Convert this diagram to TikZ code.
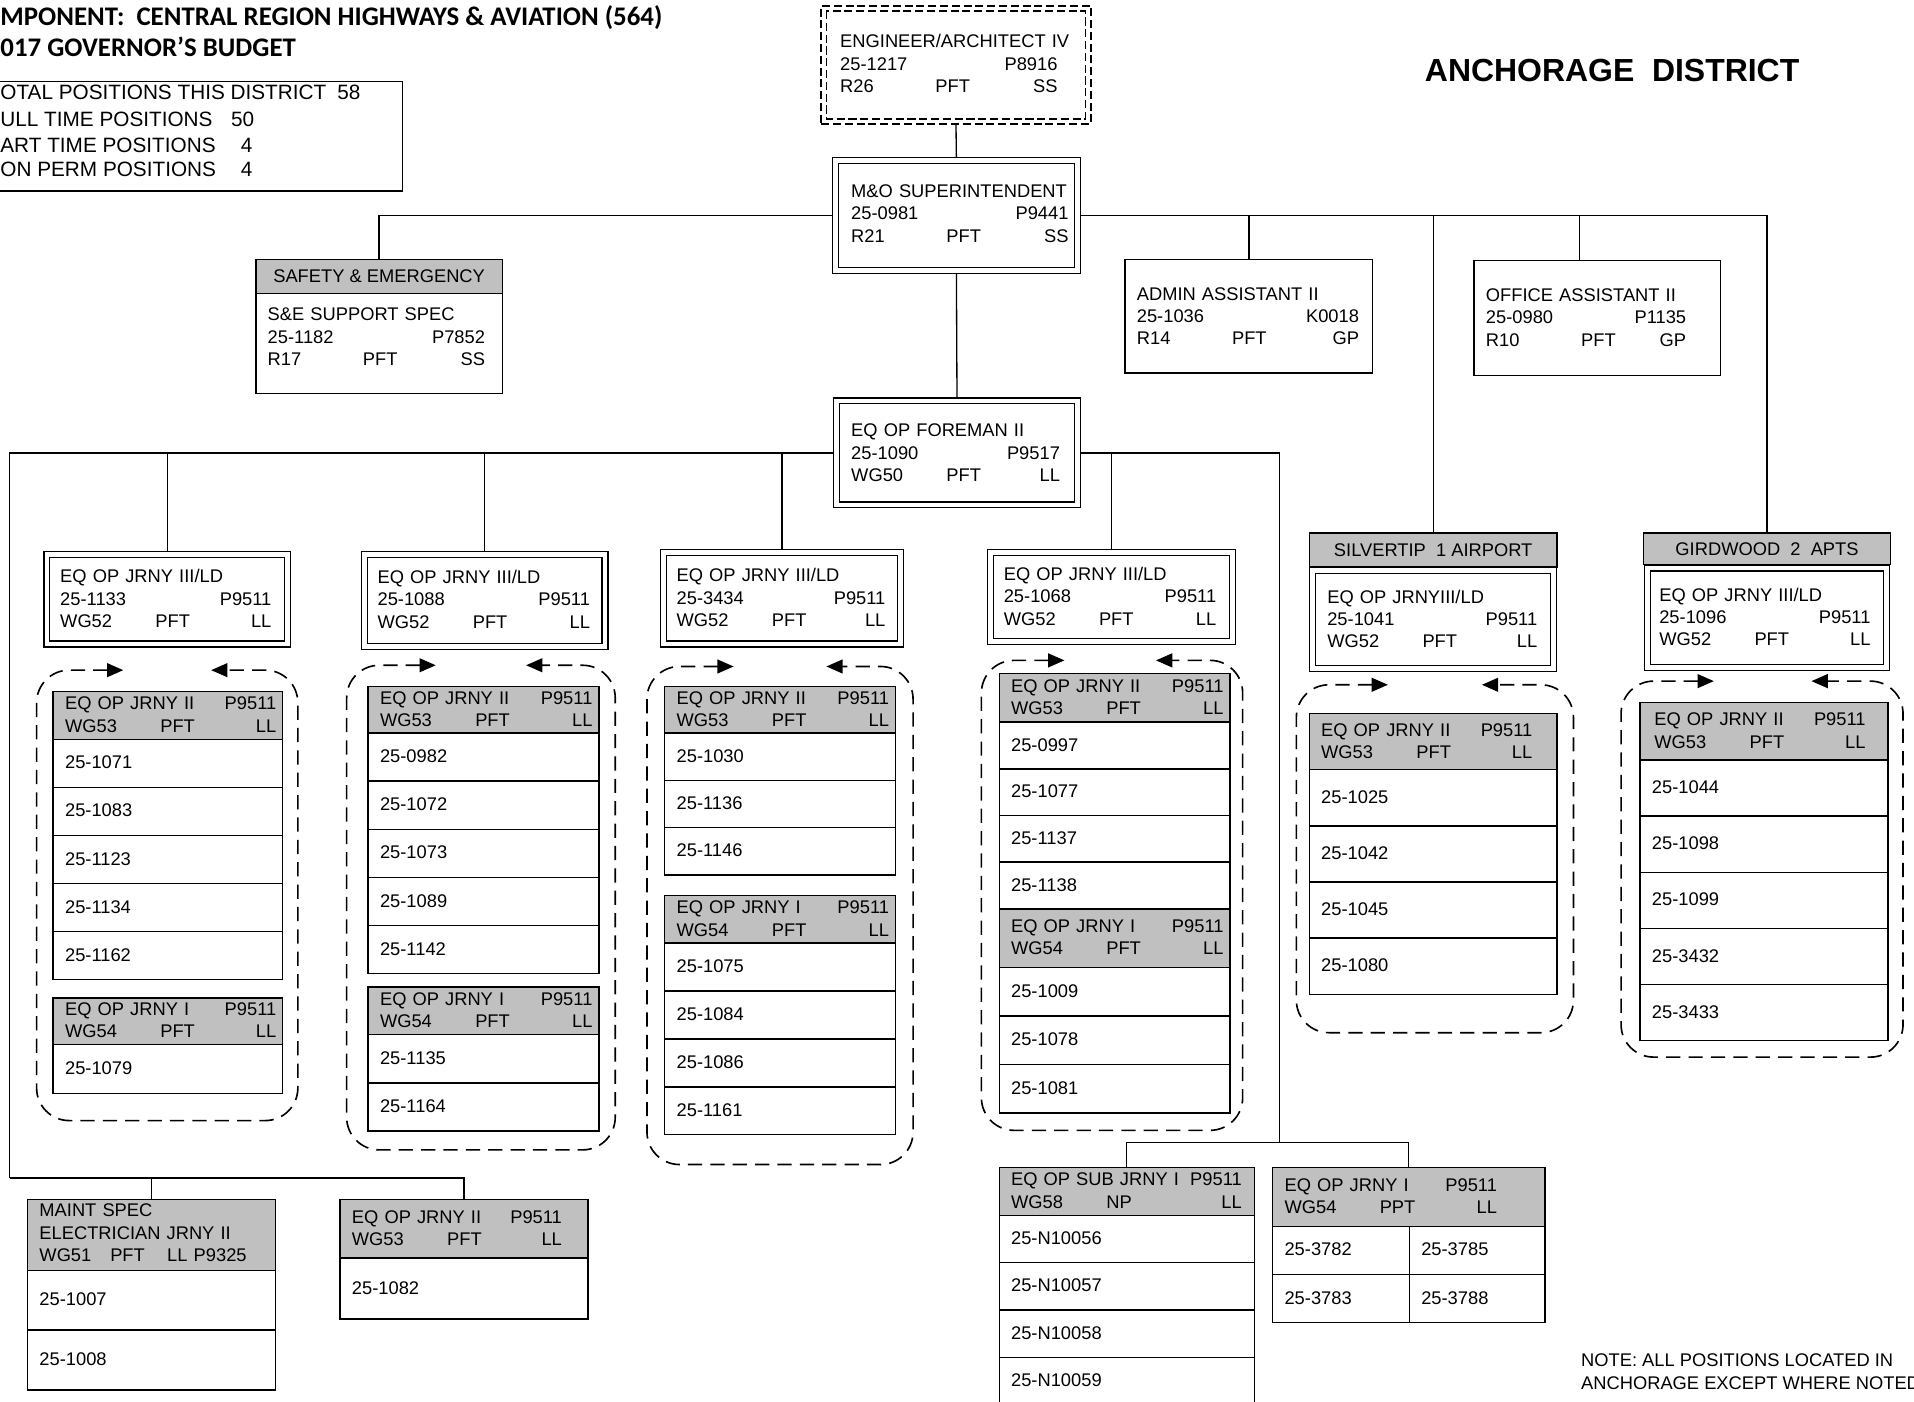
\documentclass[tikz,border=0pt]{standalone}
\usepackage{fontspec}
\setmainfont{Liberation Sans}
\newfontfamily\calibfont{Carlito}
\usetikzlibrary{arrows.meta,calc}
\definecolor{hgray}{RGB}{192,192,192}
\pgfdeclarelayer{bg}
\pgfsetlayers{bg,main}
% name, style, x1, y1, x2, y2
\newcommand\mkR[6]{%
  \pgfmathsetlengthmacro\rw{((#5)-(#3))*0.6pt}%
  \pgfmathsetlengthmacro\rh{((#6)-(#4))*0.6pt}%
  \node[#2, anchor=north west, inner sep=0pt, minimum width=\rw, minimum height=\rh] (#1) at (#3,#4) {};}
% double box, outer coordinates
\newcommand\mkD[5]{\mkR{#1}{dbl}{#2+2.9}{#3+2.9}{#4-2.9}{#5-2.9}}
% text: name, x-left, y-centre, x-right, content
\newcommand\mkT[5]{%
  \pgfmathsetlengthmacro\tw{((#4)-(#2))*0.6pt}%
  \node[txt, text width=\tw] (#1) at (#2,#3) {#5};}
\newcommand\trio[3]{\makebox[46.8pt][l]{#1}#2\hfill #3}
% rows: prefix, x1, x2, ytop, height, list
\newcommand\mkRows[6]{%
  \foreach \rowtxt [count=\ri] in {#6} {%
    \pgfmathsetmacro\ya{#4+(\ri-1)*(#5)}%
    \pgfmathsetmacro\yb{\ya+(#5)}%
    \pgfmathsetmacro\ym{(\ya+\yb)/2}%
    \pgfmathsetmacro\xt{#2+10}%
    \mkR{#1\ri}{cell}{#2}{\ya}{#3}{\yb}%
    \mkT{#1t\ri}{\xt}{\ym}{#3-6}{\rowtxt}%
  }}
% dashed group: x1 y1 x2 y2 tipL tipR
\newcommand\grpath[6]{\draw[grp] (#5,#2) -- (#1,#2) -- (#1,#4) -- (#3,#4) -- (#3,#2) -- (#6,#2);}
\begin{document}
\begin{tikzpicture}[x=0.6pt,y=-0.6pt,
  cell/.style={draw, line width=0.7pt, fill=white},
  hdr/.style={cell, fill=hgray},
  dbl/.style={draw, line width=0.6pt, double, double distance=2.3pt, fill=white},
  conn/.style={line width=0.65pt},
  txt/.style={anchor=west, inner sep=0pt, align=left, font=\fontsize{9}{11}\selectfont},
  ctxt/.style={inner sep=0pt, font=\fontsize{9}{11}\selectfont},
  grp/.style={line width=0.8pt, dash pattern=on 7pt off 4pt, rounded corners=16pt,
    {Triangle[length=8pt,width=6.8pt]}-{Triangle[length=8pt,width=6.8pt]}},
  edash/.style={draw, line width=0.8pt, dash pattern=on 4pt off 1.8pt, fill=white},
]
\useasboundingbox (0,0) rectangle (1568,1148);

% ---------- titles ----------
\node[anchor=west, inner sep=0pt, font=\calibfont\bfseries\fontsize{13.2}{15}\selectfont] (title1) at (0,14) {MPONENT:\ \ CENTRAL REGION HIGHWAYS \& AVIATION (564)};
\node[anchor=west, inner sep=0pt, font=\calibfont\bfseries\fontsize{13.2}{15}\selectfont] (title2) at (0,38) {017 GOVERNOR’S BUDGET};
\node[anchor=west, inner sep=0pt, font=\bfseries\fontsize{15.7}{18}\selectfont] (district) at (1167,58) {ANCHORAGE\ \ DISTRICT};

% ---------- stats ----------
\mkR{stat}{cell}{-10}{66}{329}{156}
\node[anchor=west, inner sep=0pt, font=\fontsize{10.2}{12}\selectfont] (st1) at (0,76) {\makebox[165.6pt][l]{OTAL POSITIONS THIS DISTRICT}58};
\node[anchor=west, inner sep=0pt, font=\fontsize{10.2}{12}\selectfont] (st2) at (0,98) {\makebox[113.4pt][l]{ULL TIME POSITIONS}50};
\node[anchor=west, inner sep=0pt, font=\fontsize{10.2}{12}\selectfont] (st3) at (0,119) {\makebox[118.2pt][l]{ART TIME POSITIONS}4};
\node[anchor=west, inner sep=0pt, font=\fontsize{10.2}{12}\selectfont] (st4) at (0,139) {\makebox[118.2pt][l]{ON PERM POSITIONS}4};

% ---------- engineer ----------
\mkR{eng}{edash}{672}{4}{893}{101}
\draw[line width=0.8pt, dash pattern=on 4pt off 1.8pt] ([shift={(3pt,-3pt)}]eng.north west) rectangle ([shift={(-3pt,3pt)}]eng.south east);
\mkT{engt}{688}{52}{866}{ENGINEER/ARCHITECT~IV\\25-1217\hfill P8916\\\trio{R26}{PFT}{SS}}

% ---------- superintendent ----------
\mkD{sup}{681}{128}{885}{224}
\mkT{supt}{697}{175}{875}{M\&O~SUPERINTENDENT\\25-0981\hfill P9441\\\trio{R21}{PFT}{SS}}

% ---------- safety ----------
\mkR{safh}{hdr}{209}{212}{411}{240}
\node[ctxt] (safht) at (safh.center) {SAFETY \& EMERGENCY};
\mkR{saf}{cell}{209}{240}{411}{322}
\mkT{saft}{219}{276}{397}{S\&E~SUPPORT~SPEC\\25-1182\hfill P7852\\\trio{R17}{PFT}{SS}}

% ---------- admin / office ----------
\mkR{adm}{cell}{921}{212}{1124}{305}
\mkT{admt}{931}{259}{1113}{ADMIN~ASSISTANT~II\\25-1036\hfill K0018\\\trio{R14}{PFT}{GP}}
\mkR{off}{cell}{1207}{213}{1409}{307}
\mkT{offt}{1217}{260}{1381}{OFFICE~ASSISTANT~II\\25-0980\hfill P1135\\\trio{R10}{PFT}{GP}}

% ---------- foreman ----------
\mkD{fore}{682}{325}{885}{416}
\mkT{foret}{697}{371}{868}{EQ~OP~FOREMAN~II\\25-1090\hfill P9517\\\trio{WG50}{PFT}{LL\hspace{5pt}}}

% ---------- level 3 ----------
\mkD{lA}{35}{451}{238}{530}
\mkT{lAt}{49}{490.5}{222}{EQ~OP~JRNY~III/LD\\25-1133\hfill P9511\\\trio{WG52}{PFT}{LL}}
\mkD{lB}{295}{451}{498}{532}
\mkT{lBt}{309}{491}{483}{EQ~OP~JRNY~III/LD\\25-1088\hfill P9511\\\trio{WG52}{PFT}{LL}}
\mkD{lC}{540}{449}{740}{530}
\mkT{lCt}{554}{489.5}{725}{EQ~OP~JRNY~III/LD\\25-3434\hfill P9511\\\trio{WG52}{PFT}{LL}}
\mkD{lD}{808}{449}{1012}{528}
\mkT{lDt}{822}{488.5}{996}{EQ~OP~JRNY~III/LD\\25-1068\hfill P9511\\\trio{WG52}{PFT}{LL}}

\mkR{silh}{hdr}{1072}{436}{1275}{464}
\node[ctxt] (silht) at (silh.center) {SILVERTIP\ \ 1 AIRPORT};
\mkD{sil}{1072}{464}{1275}{550}
\mkT{silt}{1087}{507}{1259}{EQ~OP~JRNYIII/LD\\25-1041\hfill P9511\\\trio{WG52}{PFT}{LL}}

\mkR{girh}{hdr}{1346}{436}{1548}{462}
\node[ctxt] (girht) at (girh.center) {GIRDWOOD\ \ 2\ \ APTS};
\mkD{gir}{1346}{462}{1548}{549}
\mkT{girt}{1359}{505.5}{1532}{EQ~OP~JRNY~III/LD\\25-1096\hfill P9511\\\trio{WG52}{PFT}{LL}}

% ---------- group A ----------
\grpath{30}{549}{244}{918}{101}{173}
\mkR{A1h}{hdr}{43}{566}{231}{605}
\mkT{A1ht}{53}{585.5}{226}{EQ~OP~JRNY~II\hfill P9511\hspace{3pt}\\\trio{WG53}{PFT}{LL}}
\mkRows{A1r}{43}{231}{605}{39.4}{25-1071,25-1083,25-1123,25-1134,25-1162}
\mkR{A2h}{hdr}{43}{817}{231}{855}
\mkT{A2ht}{53}{836}{226}{EQ~OP~JRNY~I\hfill P9511\hspace{3pt}\\\trio{WG54}{PFT}{LL}}
\mkRows{A2r}{43}{231}{855}{40}{25-1079}

% ---------- group B ----------
\grpath{284}{545}{504}{942}{357}{431}
\mkR{B1h}{hdr}{301}{562}{490}{600}
\mkT{B1ht}{311}{581}{485}{EQ~OP~JRNY~II\hfill P9511\hspace{3pt}\\\trio{WG53}{PFT}{LL}}
\mkRows{B1r}{301}{490}{600}{39.4}{25-0982,25-1072,25-1073,25-1089,25-1142}
\mkR{B2h}{hdr}{301}{808}{490}{847}
\mkT{B2ht}{311}{827.5}{485}{EQ~OP~JRNY~I\hfill P9511\hspace{3pt}\\\trio{WG54}{PFT}{LL}}
\mkRows{B2r}{301}{490}{847}{39.5}{25-1135,25-1164}

% ---------- group C ----------
\grpath{530}{546}{748}{954}{601}{677}
\mkR{C1h}{hdr}{544}{562}{733}{600}
\mkT{C1ht}{554}{581}{728}{EQ~OP~JRNY~II\hfill P9511\hspace{3pt}\\\trio{WG53}{PFT}{LL}}
\mkRows{C1r}{544}{733}{600}{38.7}{25-1030,25-1136,25-1146}
\mkR{C2h}{hdr}{544}{733}{733}{772}
\mkT{C2ht}{554}{752.5}{728}{EQ~OP~JRNY~I\hfill P9511\hspace{3pt}\\\trio{WG54}{PFT}{LL}}
\mkRows{C2r}{544}{733}{772}{39.25}{25-1075,25-1084,25-1086,25-1161}

% ---------- group D ----------
\grpath{804}{541}{1018}{926}{872}{947}
\mkR{D1h}{hdr}{818}{551}{1007}{591}
\mkT{D1ht}{828}{571}{1002}{EQ~OP~JRNY~II\hfill P9511\hspace{3pt}\\\trio{WG53}{PFT}{LL}}
\mkRows{D1r}{818}{1007}{591}{38.25}{25-0997,25-1077,25-1137,25-1138}
\mkR{D2h}{hdr}{818}{744}{1007}{792}
\mkT{D2ht}{828}{768}{1002}{EQ~OP~JRNY~I\hfill P9511\hspace{3pt}\\\trio{WG54}{PFT}{LL}}
\mkRows{D2r}{818}{1007}{792}{39.7}{25-1009,25-1078,25-1081}

% ---------- silvertip group ----------
\grpath{1062}{561}{1289}{846}{1137}{1214}
\mkR{S1h}{hdr}{1072}{584}{1275}{630}
\mkT{S1ht}{1082}{607}{1255}{EQ~OP~JRNY~II\hfill P9511\hspace{3pt}\\\trio{WG53}{PFT}{LL}}
\mkRows{S1r}{1072}{1275}{630}{46}{25-1025,25-1042,25-1045,25-1080}

% ---------- girdwood group ----------
\grpath{1328}{558}{1559}{866}{1404}{1484}
\mkR{G1h}{hdr}{1343}{575}{1546}{622}
\mkT{G1ht}{1355}{598.5}{1528}{EQ~OP~JRNY~II\hfill P9511\hspace{5pt}\\\trio{WG53}{PFT}{LL}}
\mkRows{G1r}{1343}{1546}{622}{46}{25-1044,25-1098,25-1099,25-3432,25-3433}

% ---------- bottom left ----------
\coordinate (busL) at (8,965);
\mkR{mainth}{hdr}{22}{982}{225}{1040}
\mkT{maintht}{32}{1010}{215}{MAINT~SPEC\\ELECTRICIAN~JRNY~II\\WG51\hspace{9.3pt}PFT\hspace{11pt}LL~P9325}
\mkRows{maintr}{22}{225}{1040}{49}{25-1007,25-1008}
\mkR{jr2h}{hdr}{278}{982}{481}{1030}
\mkT{jr2ht}{288}{1006}{460}{EQ~OP~JRNY~II\hfill P9511\hspace{5pt}\\\trio{WG53}{PFT}{LL}}
\mkRows{jr2r}{278}{481}{1030}{50}{25-1082}

% ---------- bottom right ----------
\coordinate (busR) at (1048,936);
\mkR{subh}{hdr}{818}{956}{1027}{995}
\mkT{subht}{828}{975.5}{1017}{EQ~OP~SUB~JRNY~I\hfill P9511\\\makebox[46.8pt][l]{WG58}NP\hfill LL\hspace{6pt}}
\mkRows{subr}{818}{1027}{995}{38.8}{25-N10056,25-N10057,25-N10058,25-N10059}
\mkR{pph}{hdr}{1042}{956}{1265}{1004}
\mkT{ppht}{1052}{980}{1226}{EQ~OP~JRNY~I\hfill P9511\hspace{7.8pt}\\\trio{WG54}{PPT}{LL}}
\mkRows{ppa}{1042}{1154}{1004}{39.5}{25-3782,25-3783}
\mkRows{ppb}{1154}{1265}{1004}{39.5}{25-3785,25-3788}

% ---------- note ----------
\node[anchor=north west, inner sep=0pt, align=left, font=\fontsize{9}{11}\selectfont] (note) at (1295,1109) {NOTE: ALL POSITIONS LOCATED IN\\ANCHORAGE EXCEPT WHERE NOTED};

% ---------- connectors ----------
\coordinate (offtap) at (1294,176);
\begin{pgfonlayer}{bg}
  \draw[conn] (eng.south) -- (sup.north);
  \draw[conn] (sup.west) -| (safh.north);
  \draw[conn] (sup.east) -| (girh.north);
  \draw[conn] (adm.north) -- (adm.north |- sup.east);
  \draw[conn] (offtap) -- (offtap |- off.north);
  \draw[conn] (silh.north) -- (silh.north |- sup.east);
  \draw[conn] (sup.south) -- (fore.north);
  \draw[conn] (fore.west) -| (busL);
  \draw[conn] (busL) -| (jr2h.north);
  \draw[conn] (mainth.north) -- (mainth.north |- busL);
  \draw[conn] (lA.north) -- (lA.north |- fore.west);
  \draw[conn] (lB.north) -- (lB.north |- fore.west);
  \draw[conn] (lC.north) -- (lC.north |- fore.west);
  \draw[conn] (fore.east) -| (busR);
  \draw[conn] (lD.north) -- (lD.north |- fore.east);
  \draw[conn] (subh.north) |- (pph.north |- busR) -- (pph.north);
\end{pgfonlayer}
\end{tikzpicture}
\end{document}
